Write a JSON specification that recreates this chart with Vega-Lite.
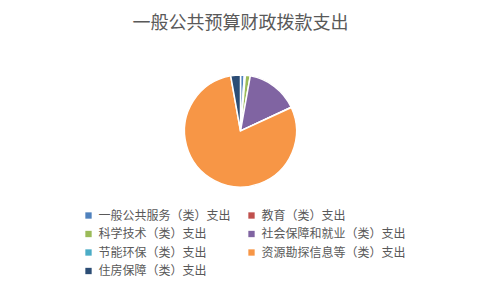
{
  "$schema": "https://vega.github.io/schema/vega-lite/v6.json",
  "width": 480,
  "height": 288,
  "autosize": {"type": "none"},
  "padding": {"left": 0.5, "top": 0.5, "right": 1.5, "bottom": 1.5},
  "background": "white",
  "config": {
    "view": {"stroke": "#d9d9d9", "strokeWidth": 1},
    "font": "Noto Sans CJK SC"
  },
  "title": {
    "text": "一般公共预算财政拨款支出",
    "anchor": "middle",
    "frame": "group",
    "orient": "top",
    "offset": -32,
    "fontSize": 18,
    "fontWeight": "normal",
    "color": "#595959",
    "font": "Noto Sans CJK SC"
  },
  "data": {
    "values": [
      {"category": "一般公共服务（类）支出", "value": 1.1, "order": 1},
      {"category": "教育（类）支出", "value": 0.3, "order": 2},
      {"category": "科学技术（类）支出", "value": 1.4, "order": 3},
      {"category": "社会保障和就业（类）支出", "value": 15.2, "order": 4},
      {"category": "节能环保（类）支出", "value": 0.1, "order": 5},
      {"category": "资源勘探信息等（类）支出", "value": 79.1, "order": 6},
      {"category": "住房保障（类）支出", "value": 2.8, "order": 7}
    ]
  },
  "mark": {
    "type": "arc",
    "outerRadius": 56,
    "stroke": "white",
    "strokeWidth": 1.5,
    "y": {"expr": "height / 2 - 13.5"}
  },
  "encoding": {
    "theta": {"field": "value", "type": "quantitative", "stack": true},
    "order": {"field": "order", "type": "quantitative"},
    "color": {
      "field": "category",
      "type": "nominal",
      "scale": {
        "domain": ["一般公共服务（类）支出", "教育（类）支出", "科学技术（类）支出", "社会保障和就业（类）支出", "节能环保（类）支出", "资源勘探信息等（类）支出", "住房保障（类）支出"],
        "range": ["#4F81BD", "#C0504D", "#9BBB59", "#8064A2", "#4BACC6", "#F79646", "#2C4D75"]
      },
      "legend": {
        "title": null,
        "orient": "none",
        "direction": "horizontal",
        "legendX": 82,
        "legendY": 209,
        "columns": 2,
        "columnPadding": 14,
        "rowPadding": 6.5,
        "symbolType": "square",
        "symbolSize": 40,
        "symbolStrokeWidth": 0,
        "labelFontSize": 12,
        "labelColor": "#595959",
        "labelFont": "Noto Sans CJK SC",
        "labelOffset": 4,
        "labelLimit": 300
      }
    }
  }
}
